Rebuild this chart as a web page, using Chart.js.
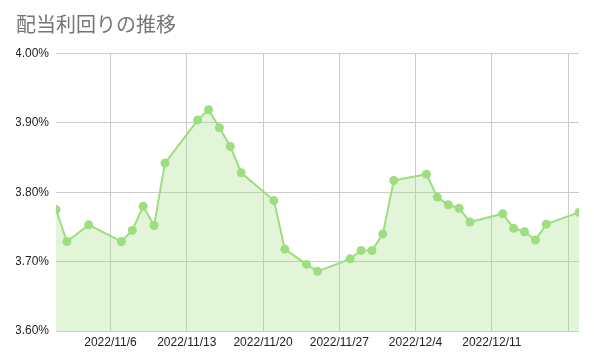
<!DOCTYPE html>
<html lang="ja">
<head>
    <meta charset="UTF-8">
    <title>配当利回りの推移</title>
    <script src="https://cdn.jsdelivr.net/npm/chart.js"></script>
    <style>
        body {
            margin: 0;
            background-color: #fff;
        }
        #wrap {
            width: 594px;
            height: 364px;
        }
    </style>
</head>
<body>
    <div id="wrap"><canvas id="yieldChart" width="594" height="364"></canvas></div>
    <script>
        // data
        const dates = [
            '2022/11/1', '2022/11/2', '2022/11/4', '2022/11/7', '2022/11/8', '2022/11/9',
            '2022/11/10', '2022/11/11', '2022/11/14', '2022/11/15', '2022/11/16', '2022/11/17',
            '2022/11/18', '2022/11/21', '2022/11/22', '2022/11/24', '2022/11/25', '2022/11/28',
            '2022/11/29', '2022/11/30', '2022/12/1', '2022/12/2', '2022/12/5', '2022/12/6',
            '2022/12/7', '2022/12/8', '2022/12/9', '2022/12/12', '2022/12/13', '2022/12/14',
            '2022/12/15', '2022/12/16', '2022/12/19'
        ];
        const yields = [
            3.775, 3.729, 3.753, 3.729, 3.745, 3.780,
            3.752, 3.842, 3.904, 3.919, 3.893, 3.866,
            3.828, 3.788, 3.718, 3.696, 3.686, 3.704,
            3.716, 3.716, 3.740, 3.817, 3.826, 3.793,
            3.782, 3.777, 3.757, 3.769, 3.748, 3.743,
            3.731, 3.754, 3.771
        ];
        const startDate = '2022/11/1';
        const endDate = '2022/12/19';
        const tickDates = ['2022/11/6', '2022/11/13', '2022/11/20', '2022/11/27', '2022/12/4', '2022/12/11', '2022/12/18'];
        const labeledTicks = ['2022/11/6', '2022/11/13', '2022/11/20', '2022/11/27', '2022/12/4', '2022/12/11'];

        const DAY = 24 * 60 * 60 * 1000;
        function toDate(s) {
            const p = s.split('/').map(Number);
            return new Date(p[0], p[1] - 1, p[2]);
        }
        const t0 = toDate(startDate);
        function dayOf(s) {
            return Math.round((toDate(s) - t0) / DAY);
        }
        function labelOf(day) {
            const d = new Date(t0.getTime() + day * DAY);
            return d.getFullYear() + '/' + (d.getMonth() + 1) + '/' + d.getDate();
        }

        const points = dates.map((d, i) => ({ x: dayOf(d), y: yields[i] }));
        const green = '#9edd80';

        const ctx = document.getElementById('yieldChart').getContext('2d');
        new Chart(ctx, {
            type: 'line',
            data: {
                datasets: [{
                    data: points,
                    borderColor: green,
                    backgroundColor: 'rgba(158, 221, 128, 0.3)',
                    pointBackgroundColor: green,
                    pointBorderWidth: 0,
                    pointRadius: 4.5,
                    borderWidth: 2,
                    fill: 'start',
                    tension: 0,
                    clip: 0
                }]
            },
            options: {
                responsive: false,
                animation: false,
                layout: {
                    padding: { left: 16, right: 15, top: 0, bottom: 0 }
                },
                plugins: {
                    legend: { display: false },
                    tooltip: { enabled: false },
                    title: {
                        display: true,
                        text: '配当利回りの推移',
                        align: 'start',
                        color: '#757575',
                        font: { family: '"Noto Sans CJK JP", sans-serif', size: 20, weight: 'normal', lineHeight: 1.2 },
                        padding: { top: 12, bottom: 17.5 }
                    }
                },
                scales: {
                    x: {
                        type: 'linear',
                        min: dayOf(startDate),
                        max: dayOf(endDate),
                        border: { display: false },
                        grid: { color: '#cccccc', drawTicks: false },
                        afterBuildTicks: (scale) => {
                            scale.ticks = tickDates.map(d => ({ value: dayOf(d) }));
                        },
                        afterFit: (scale) => { scale.height = 33; },
                        ticks: {
                            autoSkip: false,
                            maxRotation: 0,
                            padding: 4,
                            color: '#222',
                            font: { family: '"Liberation Sans", Arial, sans-serif', size: 12 },
                            callback: (value) => {
                                const s = labelOf(value);
                                return labeledTicks.includes(s) ? s : '';
                            }
                        }
                    },
                    y: {
                        min: 3.6,
                        max: 4.0,
                        border: { display: false },
                        grid: { color: '#cccccc', drawTicks: false },
                        afterFit: (scale) => { scale.width = 40; },
                        ticks: {
                            stepSize: 0.1,
                            padding: 7,
                            color: '#222',
                            font: { family: '"Liberation Sans", Arial, sans-serif', size: 12 },
                            callback: (value) => value.toFixed(2) + '%'
                        }
                    }
                }
            }
        });
    </script>
</body>
</html>
